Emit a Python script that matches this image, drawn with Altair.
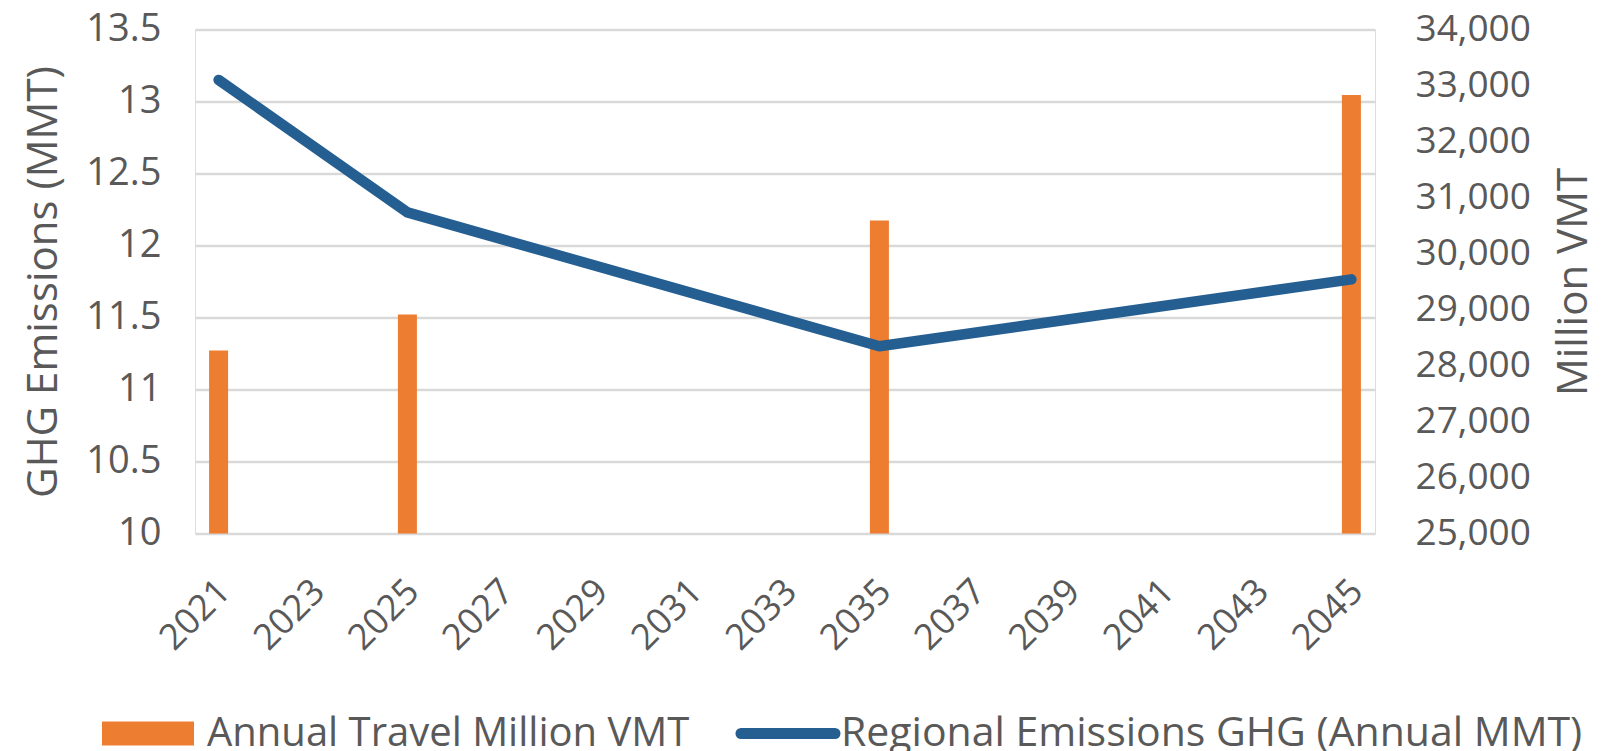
import altair as alt
import pandas as pd

# ---- data ----
all_years = [str(y) for y in range(2021, 2046)]
label_years = [str(y) for y in range(2021, 2046, 2)]
years = ["2021", "2025", "2035", "2045"]
vmt = [28270, 28910, 30590, 32830]          # Annual Travel Million VMT (right axis)
ghg = [13.15, 12.23, 11.30, 11.765]         # Regional Emissions GHG (left axis)
ghg_ticks = [10, 10.5, 11, 11.5, 12, 12.5, 13, 13.5]
vmt_ticks = list(range(25000, 34001, 1000))
legend_labels = ["Annual Travel Million VMT", "Regional Emissions GHG (Annual MMT)"]

ORANGE = "#ED7D31"
BLUE = "#255E91"
TEXT = "#595959"
GRID = "#D9D9D9"
FONT = "Open Sans"

df = pd.DataFrame({"year": years, "vmt": vmt, "ghg": ghg})

W, H = 1180, 504

x_enc = alt.X(
    "year:O",
    scale=alt.Scale(domain=all_years, paddingInner=0, paddingOuter=0),
    axis=alt.Axis(
        values=label_years, labelAngle=315, labelFontSize=36, labelColor=TEXT,
        labelFont=FONT, labelPadding=52, labelOffset=6, ticks=False, domain=False,
        title=None, labelAlign="right", labelBaseline="middle",
    ),
)

bars = alt.Chart(df).mark_bar(width=19, color=ORANGE).encode(
    x=x_enc,
    y=alt.Y(
        "vmt:Q",
        scale=alt.Scale(domain=[25000, 34000], nice=False, zero=False),
        axis=alt.Axis(
            orient="right", values=vmt_ticks, format=",.0f", grid=False,
            ticks=False, domain=False, labelFontSize=37, labelColor=TEXT,
            labelFont=FONT, labelPadding=40, title="Million VMT",
            titleFontSize=42, titleFont=FONT, titleColor=TEXT,
            titleFontWeight="normal", titleAngle=270,
            titleX=198, titleY=H / 2, titleAlign="center", titleBaseline="middle",
        ),
    ),
    y2=alt.datum(25000),
)

line = alt.Chart(df).mark_line(color=BLUE, strokeWidth=10.5, strokeCap="round", strokeJoin="round").encode(
    x=x_enc,
    y=alt.Y(
        "ghg:Q",
        scale=alt.Scale(domain=[10, 13.5], nice=False, zero=False),
        axis=alt.Axis(
            orient="left", values=ghg_ticks, format="~g", grid=True,
            gridColor=GRID, gridWidth=2.5, ticks=False, domain=False,
            labelFontSize=38, labelColor=TEXT, labelFont=FONT, labelPadding=34,
            title="GHG Emissions (MMT)", titleFontSize=42, titleFont=FONT,
            titleColor=TEXT, titleFontWeight="normal",
            titleX=-152, titleY=H / 2, titleAlign="center", titleBaseline="middle",
        ),
    ),
)

# ---- legend (manual, below the plot) ----
leg_df = pd.DataFrame({"label": legend_labels})
LEG_Y = 704
leg_rect = alt.Chart(leg_df.iloc[[0]]).mark_rect(color=ORANGE).encode(
    x=alt.value(-93), x2=alt.value(-1), y=alt.value(LEG_Y - 12), y2=alt.value(LEG_Y + 12)
)
leg_text1 = alt.Chart(leg_df.iloc[[0]]).mark_text(
    align="left", baseline="middle", fontSize=40, font=FONT, color=TEXT
).encode(text="label:N", x=alt.value(12), y=alt.value(LEG_Y))
leg_line = alt.Chart(leg_df.iloc[[1]]).mark_rule(color=BLUE, strokeWidth=11, strokeCap="round").encode(
    x=alt.value(546), x2=alt.value(640), y=alt.value(LEG_Y)
)
leg_text2 = alt.Chart(leg_df.iloc[[1]]).mark_text(
    align="left", baseline="middle", fontSize=41, font=FONT, color=TEXT
).encode(text="label:N", x=alt.value(646), y=alt.value(LEG_Y))

main = alt.layer(bars, line).resolve_scale(y="independent")

chart = alt.layer(main, leg_rect, leg_text1, leg_line, leg_text2).properties(
    width=W, height=H,
    autosize=alt.AutoSizeParams(type="none"),
    padding={"left": 187, "top": 21.5, "right": 221, "bottom": 222},
).configure_view(stroke=None).configure(background="white")

chart.save("out.html", embed_options={"renderer": "svg", "actions": False})
